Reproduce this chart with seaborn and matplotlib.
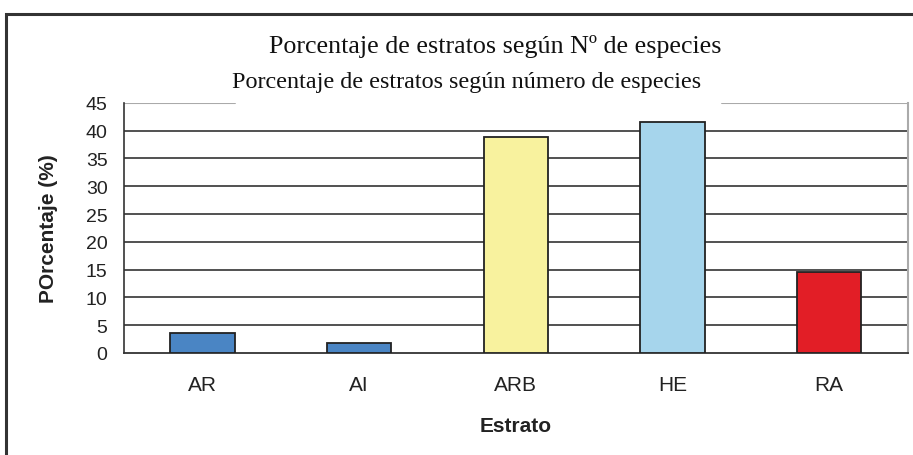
import matplotlib
matplotlib.use("Agg")
import matplotlib.pyplot as plt
import pandas as pd
import seaborn as sns
from matplotlib.patches import Rectangle

estratos = ["AR", "AI", "ARB", "HE", "RA"]
porcentaje = [3.5, 1.8, 38.8, 41.5, 14.5]
colores = ["#4a85c4", "#4a85c4", "#f8f29e", "#a6d5ec", "#e21e26"]
y_ticks = [0, 5, 10, 15, 20, 25, 30, 35, 40, 45]

titulo = "Porcentaje de estratos según Nº de especies"
subtitulo = "Porcentaje de estratos según número de especies"

df = pd.DataFrame({"Estrato": estratos, "Porcentaje": porcentaje})

sns.set_style("white")
plt.rcParams["font.family"] = ["Liberation Sans", "DejaVu Sans"]

fig = plt.figure(figsize=(9.13, 4.56), dpi=100)
ax = fig.add_axes([0.136, 0.224, 0.858, 0.548])

sns.barplot(data=df, x="Estrato", y="Porcentaje", hue="Estrato",
            palette=colores, saturation=1, legend=False, width=0.41,
            edgecolor="#222222", linewidth=1.3, ax=ax, zorder=3)

ax.set_ylim(0, 45)
ax.set_xlim(-0.5, len(estratos) - 0.5)
ax.set_yticks(y_ticks)
ax.set_yticklabels([str(v) for v in y_ticks], fontsize=14, color="#222222")

# lineas horizontales
for v in y_ticks[1:-1]:
    ax.axhline(v, color="#333333", linewidth=1.2, zorder=1)
# la linea de 45 queda tapada por el subtitulo en el centro
ax.axhline(45, xmin=0, xmax=0.142, color="#aaaaaa", linewidth=1.5, zorder=1)
ax.axhline(45, xmin=0.763, xmax=1, color="#aaaaaa", linewidth=1.5, zorder=1)

# marcas en los limites de cada categoria
ax.set_xticks([i - 0.5 for i in range(len(estratos) + 1)], minor=False)
ax.set_xticklabels([""] * (len(estratos) + 1))
ax.set_xticks(range(len(estratos)), minor=True)
ax.set_xticklabels(estratos, minor=True, fontsize=15, color="#222222")
ax.tick_params(axis="x", which="major", length=7, width=1, color="#333333", direction="out")
ax.tick_params(axis="x", which="minor", length=0, pad=16)
ax.tick_params(axis="y", length=7, width=1, color="#333333", direction="out", pad=5)

ax.spines["top"].set_visible(False)
ax.spines["left"].set_color("#333333")
ax.spines["left"].set_linewidth(1.2)
ax.spines["bottom"].set_color("#333333")
ax.spines["bottom"].set_linewidth(1.3)
ax.spines["right"].set_color("#aaaaaa")
ax.spines["right"].set_linewidth(1.5)

ax.set_xlabel("Estrato", fontsize=15, fontweight="bold", labelpad=16, color="#222222")
ax.set_ylabel("POrcentaje (%)", fontsize=15, fontweight="bold", labelpad=20, color="#222222")

# marco exterior
fig.patches.append(Rectangle((0.007, -0.01), 1.1, 0.977, transform=fig.transFigure,
                             fill=False, edgecolor="#333333", linewidth=2.2))

fig.text(0.542, 0.898, titulo, ha="center", va="center", fontsize=18.7,
         family=["Liberation Serif", "DejaVu Serif"], color="#111111")
fig.text(0.511, 0.82, subtitulo, ha="center", va="center", fontsize=17.4,
         family=["Liberation Serif", "DejaVu Serif"], color="#111111")

fig.savefig("out.png", dpi=100)
